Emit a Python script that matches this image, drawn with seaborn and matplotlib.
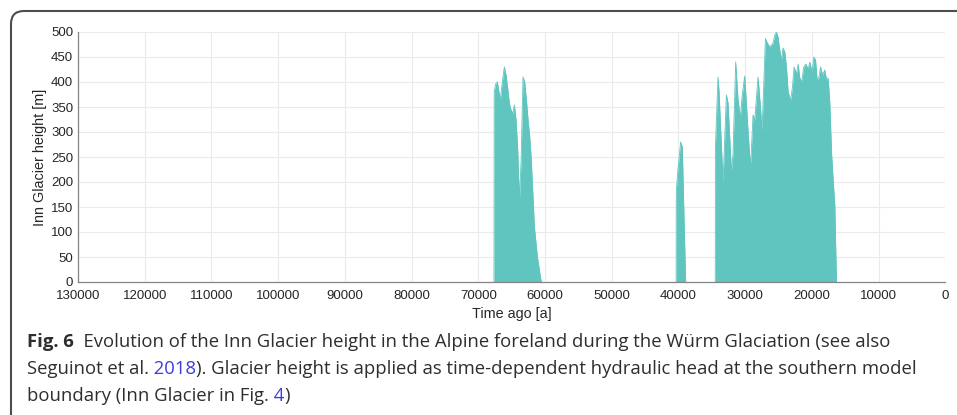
import matplotlib
matplotlib.use("Agg")
import matplotlib.pyplot as plt
import pandas as pd
import seaborn as sns
from matplotlib.patches import FancyBboxPatch

# Inn Glacier ice height (m) against time before present (years)
t_early = [67650, 67620, 67370, 67140, 66990, 66690, 66490, 66240, 66090, 65840,
           65590, 65340, 65090, 64840, 64590, 64340, 64090, 63840, 63580, 63300,
           63040, 62790, 62540, 62290, 62080, 61590, 61140, 60690, 60540]
h_early = [0, 381, 397, 400, 387, 364, 390, 417, 430, 414,
           387, 357, 344, 337, 354, 324, 264, 164, 244, 410,
           400, 364, 324, 290, 250, 110, 50, 10, 0]

t_mid = [40350, 40320, 40080, 39670, 39420, 39220, 38920]
h_mid = [0, 184, 224, 280, 270, 158, 0]

t_lgm = [34480, 34460, 34070, 33920, 33320, 32810, 32570, 32060, 31820, 31420,
         31070, 30710, 30470, 30070, 29810, 29570, 29310, 29160, 28820, 28560,
         28070, 27710, 27470, 26960, 26760, 26310, 25820, 25560, 25310, 25070,
         24810, 24560, 24320, 24060, 23810, 23570, 23210, 22910, 22670, 22310,
         22060, 21810, 21550, 21210, 20910, 20560, 20310, 19960, 19710, 19450,
         19210, 18960, 18700, 18400, 18060, 17800, 17560, 17310, 17050, 16810,
         16560, 16410, 16300]
h_lgm = [0, 270, 410, 382, 198, 374, 358, 220, 256, 440,
         364, 328, 370, 412, 356, 302, 250, 238, 334, 324,
         410, 350, 302, 487, 480, 470, 478, 494, 500, 490,
         464, 444, 468, 460, 430, 382, 362, 390, 430, 416,
         436, 408, 400, 430, 436, 426, 440, 420, 450, 444,
         404, 408, 430, 414, 424, 404, 408, 358, 258, 204,
         152, 58, 0]

x_ticks = list(range(0, 130001, 10000))
y_ticks = list(range(0, 501, 50))

caption_lines = [
    [("Fig. 6", "bold", "text"),
     ("  Evolution of the Inn Glacier height in the Alpine foreland during the Würm Glaciation (see also", "normal", "text")],
    [("Seguinot et al.", "normal", "text"), (" 2018", "normal", "link"),
     ("). Glacier height is applied as time-dependent hydraulic head at the southern model", "normal", "text")],
    [("boundary (Inn Glacier in Fig.", "normal", "text"), (" 4", "normal", "link"), (")", "normal", "text")],
]

TEAL = "#5fc5be"
TEXT = "#2e2e2e"
LINK = "#3d3dde"

df = pd.concat([
    pd.DataFrame({"time": t_early, "height": h_early, "phase": "early"}),
    pd.DataFrame({"time": t_mid, "height": h_mid, "phase": "mid"}),
    pd.DataFrame({"time": t_lgm, "height": h_lgm, "phase": "lgm"}),
], ignore_index=True)

sns.set_theme(style="whitegrid")
plt.rcParams["font.family"] = ["Liberation Sans", "DejaVu Sans"]

W, H, DPI = 957, 415, 100
fig = plt.figure(figsize=(W / DPI, H / DPI), dpi=DPI)
fig.patch.set_facecolor("white")

ax = fig.add_axes([78 / W, 1 - 282 / H, (945.3 - 78) / W, 250 / H])
ax.set_facecolor("white")

for phase, grp in df.groupby("phase", sort=False):
    ax.fill_between(grp["time"], 0, grp["height"], color=TEAL, lw=0, zorder=2)
sns.lineplot(data=df, x="time", y="height", hue="phase", units="phase",
             estimator=None, sort=False, palette=[TEAL] * 3, legend=False,
             lw=0.6, ax=ax, zorder=2)

ax.set_xlim(130000, 0)
ax.set_ylim(0, 500)
ax.set_xticks(x_ticks)
ax.set_xticklabels([str(v) for v in x_ticks])
ax.set_yticks(y_ticks)
ax.set_yticklabels([str(v) for v in y_ticks])

ax.grid(True, color="#ebebeb", lw=0.8)
ax.set_axisbelow(True)
for side in ("top", "right"):
    ax.spines[side].set_visible(False)
for side in ("left", "bottom"):
    ax.spines[side].set_color("#858585")
    ax.spines[side].set_linewidth(0.9)
    ax.spines[side].set_zorder(3)

ax.tick_params(direction="in", length=5.5, width=0.8, color="#858585",
               labelsize=9.5, labelcolor="#262626")
ax.tick_params(axis="x", pad=5.5)
ax.tick_params(axis="y", pad=3.5)

ax.set_xlabel("Time ago [a]", fontsize=10.4, color="#262626")
ax.set_ylabel("Inn Glacier height [m]", fontsize=10.4, color="#262626")
ax.xaxis.set_label_coords(0.5, -(314 - 282) / 250)
ax.xaxis.label.set_verticalalignment("center")
ax.yaxis.set_label_coords((40 - 78) / 867.3, 0.5)
ax.yaxis.label.set_verticalalignment("center")

# rounded card frame around figure and caption
frame = FancyBboxPatch((11, -40), 1000, H - 11 + 40,
                       boxstyle="round,pad=0,rounding_size=13",
                       transform=None, fill=False, ec="#4d4d4d", lw=1.5,
                       clip_on=False)
fig.add_artist(frame)

# caption, drawn run by run so bold and link colours can be mixed
renderer = fig.canvas.get_renderer()
baselines = [347.3, 374.3, 401.0]
for runs, base in zip(caption_lines, baselines):
    x = 27
    for txt, weight, kind in runs:
        t = fig.text(x / W, 1 - base / H, txt, fontsize=13.3, weight=weight,
                     family=["Open Sans", "DejaVu Sans"],
                     color=LINK if kind == "link" else TEXT,
                     ha="left", va="baseline")
        x = t.get_window_extent(renderer).x1

fig.savefig("out.png", dpi=DPI, facecolor="white")
